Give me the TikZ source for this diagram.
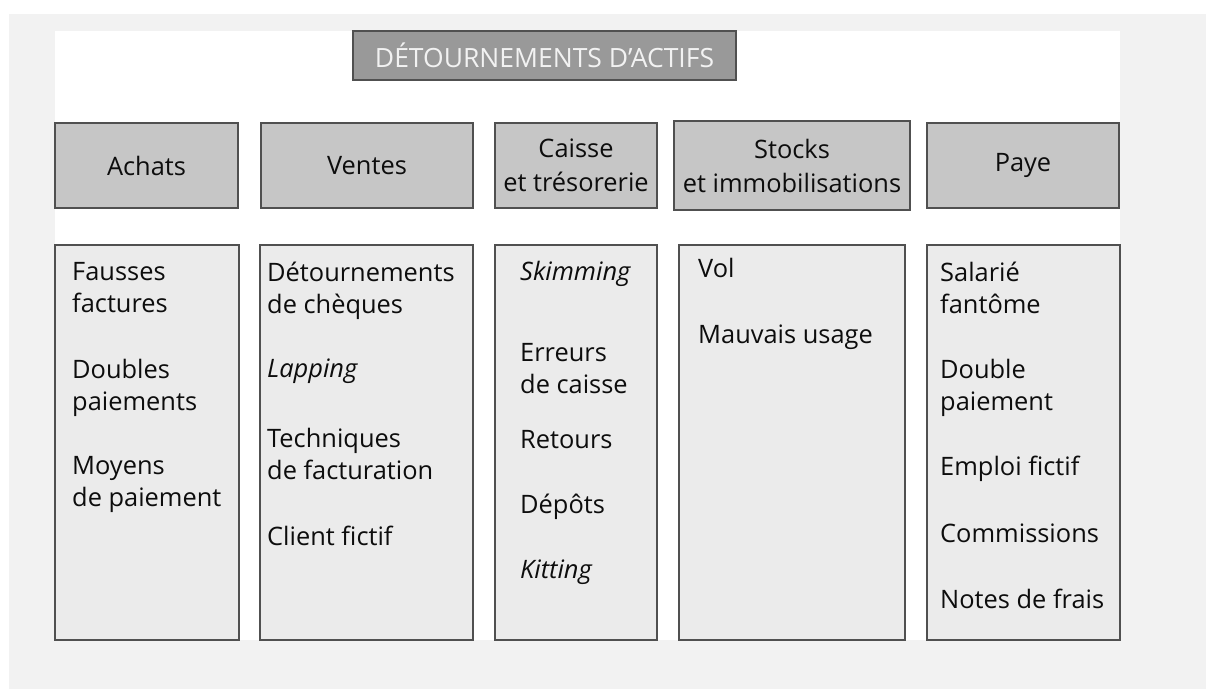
\documentclass[tikz,border=0pt]{standalone}
\usepackage{fontspec}
\setmainfont{Open Sans}
\definecolor{bgout}{HTML}{F2F2F2}
\definecolor{hdrfill}{HTML}{C6C6C6}
\definecolor{bodyfill}{HTML}{EBEBEB}
\definecolor{titlefill}{HTML}{999999}
\definecolor{edge}{HTML}{505050}
\definecolor{ink}{HTML}{0D0D0D}
\begin{document}
\begin{tikzpicture}[x=1pt,y=-1pt,
  box/.style={draw=edge,line width=1.5pt,inner sep=0pt,rectangle},
  titlebox/.style={box,fill=titlefill,text=bgout,font=\fontsize{26.5}{30}\selectfont},
  hdr/.style={box,fill=hdrfill,text=ink,align=center,font=\fontsize{25.4}{34}\selectfont},
  bodybox/.style={box,fill=bodyfill,minimum height=395pt},
  itm/.style={anchor=base west,inner sep=0pt,text=ink,font=\fontsize{25.4}{31}\selectfont}]
\useasboundingbox (0,0) rectangle (1206,689);
\fill[bgout] (9,14) rectangle (1206,689);
\fill[white] (55,30.5) rectangle (1120,640);
% title
\node[titlebox,minimum width=383pt,minimum height=49pt] (title) at (544.5,55.5) {DÉTOURNEMENTS D’ACTIFS};
% headers
\node[hdr,minimum width=183pt,minimum height=85pt] (hA) at (146.5,165.5) {Achats};
\node[hdr,minimum width=212pt,minimum height=85pt] (hV) at (367,165.5) {Ventes};
\node[hdr,minimum width=162pt,minimum height=85pt] (hC) at (576,165.5) {Caisse\\et trésorerie};
\node[hdr,minimum width=236pt,minimum height=89pt] (hS) at (792,165.5) {Stocks\\et immobilisations};
\node[hdr,minimum width=192pt,minimum height=85pt] (hP) at (1023,165.5) {Paye};
% bodies
\node[bodybox,minimum width=184pt] (bA) at (147,442.5) {};
\node[bodybox,minimum width=213pt] (bV) at (366.5,442.5) {};
\node[bodybox,minimum width=162pt] (bC) at (576,442.5) {};
\node[bodybox,minimum width=226pt] (bS) at (792,442.5) {};
\node[bodybox,minimum width=193pt] (bP) at (1023.5,442.5) {};
% Achats items
\node[itm] (a1) at (72,280) {Fausses};
\node[itm] (a2) at (72,312) {factures};
\node[itm] (a3) at (72,378) {Doubles};
\node[itm] (a4) at (72,410) {paiements};
\node[itm] (a5) at (72,474) {Moyens};
\node[itm] (a6) at (72,506) {de paiement};
% Ventes items
\node[itm] (v1) at (267,281) {Détournements};
\node[itm] (v2) at (267,313) {de chèques};
\node[itm] (v3) at (267,377) {\itshape Lapping};
\node[itm] (v4) at (267,447) {Techniques};
\node[itm] (v5) at (267,479) {de facturation};
\node[itm] (v6) at (267,545) {Client fictif};
% Caisse items
\node[itm] (c1) at (520,280) {\itshape Skimming};
\node[itm] (c2) at (520,361) {Erreurs};
\node[itm] (c3) at (520,393) {de caisse};
\node[itm] (c4) at (520,448) {Retours};
\node[itm] (c5) at (520,513) {Dépôts};
\node[itm] (c6) at (520,578) {\itshape Kitting};
% Stocks items
\node[itm] (s1) at (698,277) {Vol};
\node[itm] (s2) at (698,343) {Mauvais usage};
% Paye items
\node[itm] (p1) at (940,281) {Salarié};
\node[itm] (p2) at (940,313) {fantôme};
\node[itm] (p3) at (940,378) {Double};
\node[itm] (p4) at (940,410) {paiement};
\node[itm] (p5) at (940,475) {Emploi fictif};
\node[itm] (p6) at (940,542) {Commissions};
\node[itm] (p7) at (940,608) {Notes de frais};
\end{tikzpicture}
\end{document}
